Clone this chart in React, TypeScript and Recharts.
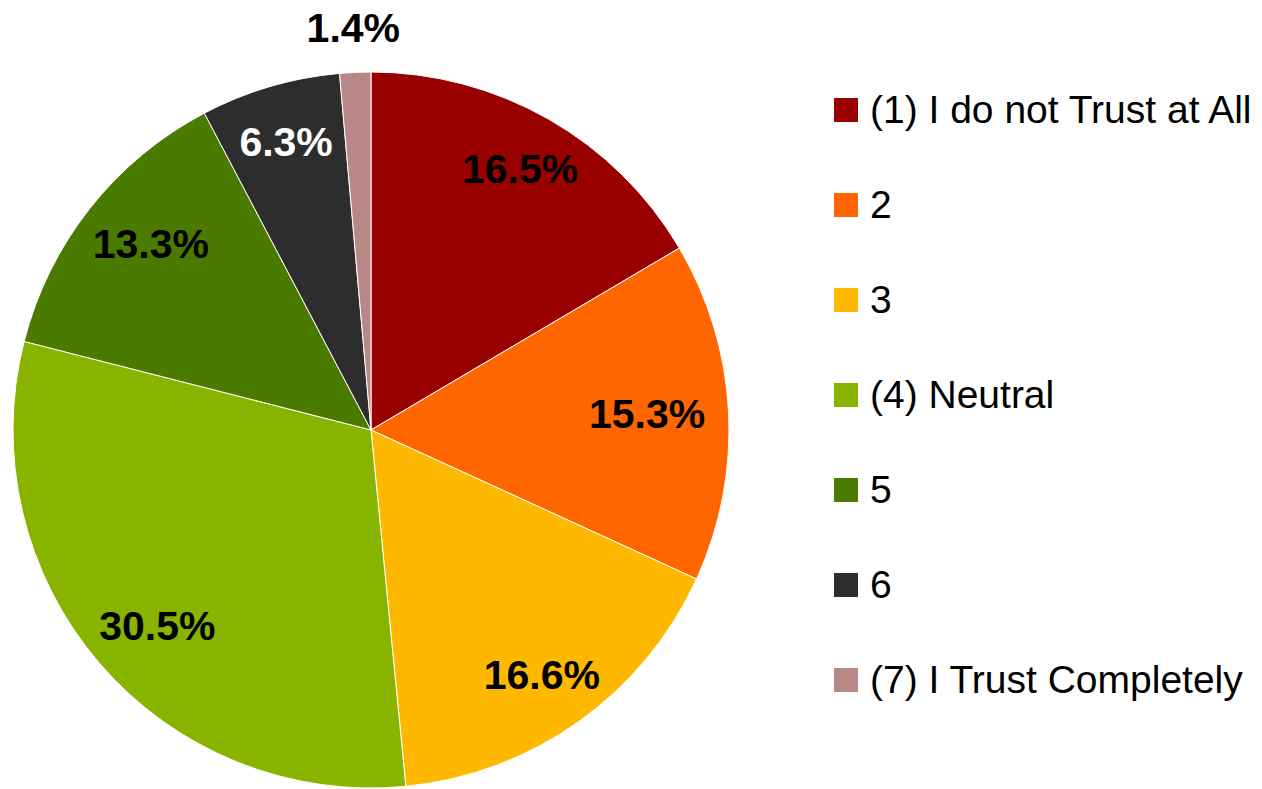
import React from 'react';
import { PieChart, Pie, Cell } from 'recharts';

const categories = [
  '(1) I do not Trust at All',
  '2',
  '3',
  '(4) Neutral',
  '5',
  '6',
  '(7) I Trust Completely',
];
const shares = [16.5, 15.3, 16.6, 30.5, 13.3, 6.3, 1.4];
const colors = ['#990000', '#FF6600', '#FFB800', '#88B400', '#4A7A00', '#2D2D2D', '#B98785'];

const data = categories.map((name, i) => ({ name, value: shares[i] }));

const RADIAN = Math.PI / 180;
const FONT = '"Liberation Sans", Arial, sans-serif';

function renderLabel(props: any) {
  const { cx, cy, midAngle, outerRadius, index, value } = props;
  // the smallest slice gets its label outside, like in the original
  const outside = value < 3;
  const r = outside ? outerRadius + 44 : outerRadius * 0.84;
  let dx = r * Math.cos(-midAngle * RADIAN);
  const dy = r * Math.sin(-midAngle * RADIAN);
  if (!outside) {
    // keep the text box inside the circle (best fit)
    const halfW = 60;
    const lim = Math.sqrt(Math.max(0, (outerRadius * 0.94) ** 2 - dy * dy));
    if (Math.abs(dx) + halfW > lim) dx = Math.sign(dx) * (lim - halfW);
  }
  return (
    <text
      x={cx + dx}
      y={cy + dy}
      fill={index === 5 ? '#ffffff' : '#000000'}
      textAnchor="middle"
      dominantBaseline="central"
      fontFamily={FONT}
      fontWeight="bold"
      fontSize={41}
    >
      {`${value.toFixed(1)}%`}
    </text>
  );
}

function LegendList() {
  return (
    <div style={{ position: 'absolute', left: 834, top: 98, fontFamily: FONT, fontSize: 39, color: '#000' }}>
      {categories.map((name, i) => (
        <div
          key={name}
          style={{ display: 'flex', alignItems: 'center', height: 24, marginBottom: 71, whiteSpace: 'nowrap' }}
        >
          <span style={{ width: 24, height: 24, background: colors[i], marginRight: 12, flex: 'none' }} />
          <span style={{ lineHeight: '24px' }}>{name}</span>
        </div>
      ))}
    </div>
  );
}

export default function App() {
  return (
    <div style={{ position: 'absolute', left: 0, top: 0, width: 1262, height: 789, background: '#fff' }}>
      <PieChart width={1262} height={789} margin={{ top: 0, right: 0, bottom: 0, left: 0 }}>
        <Pie
          data={data}
          dataKey="value"
          nameKey="name"
          cx={371}
          cy={430}
          outerRadius={358}
          startAngle={90}
          endAngle={-270}
          stroke="#ffffff"
          strokeWidth={1}
          label={renderLabel}
          labelLine={false}
          isAnimationActive={false}
        >
          {data.map((d, i) => (
            <Cell key={d.name} fill={colors[i]} />
          ))}
        </Pie>
      </PieChart>
      <LegendList />
    </div>
  );
}
